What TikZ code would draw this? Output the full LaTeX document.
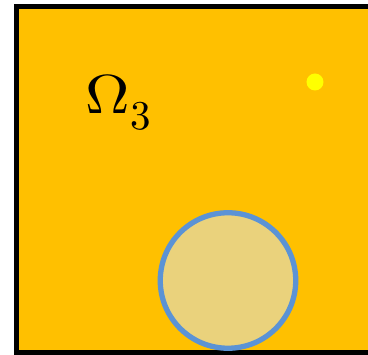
\documentclass[tikz,border=0pt]{standalone}
\usepackage{unicode-math}
\begin{document}
\begin{tikzpicture}[x=1pt,y=-1pt]
\definecolor{bg}{HTML}{FFC000}
\definecolor{circfill}{HTML}{EAD27C}
\definecolor{circline}{HTML}{5B93D5}
\definecolor{dot}{HTML}{FFFF00}
\useasboundingbox (0,0) rectangle (368,355);
\clip (0,0) rectangle (368,355);
\fill[bg] (16.5,6.5) rectangle (380,352.5);
\draw[black,line width=5pt] (380,6.5) -- (16.5,6.5) -- (16.5,352.5) -- (380,352.5);
\node[circle,draw=circline,fill=circfill,line width=5.3pt,minimum size=135.5pt,inner sep=0pt] (c) at (228,280.5) {};
\node[circle,fill=dot,minimum size=17pt,inner sep=0pt] (d) at (315,82) {};
\node[inner sep=0pt,anchor=base west,xscale=1.12] (t) at (85,114) {\fontsize{55}{66}\selectfont$\Omega$};
\node[inner sep=0pt,anchor=base west] (s) at (130,130) {\fontsize{41}{48}\selectfont$3$};
\end{tikzpicture}
\end{document}
